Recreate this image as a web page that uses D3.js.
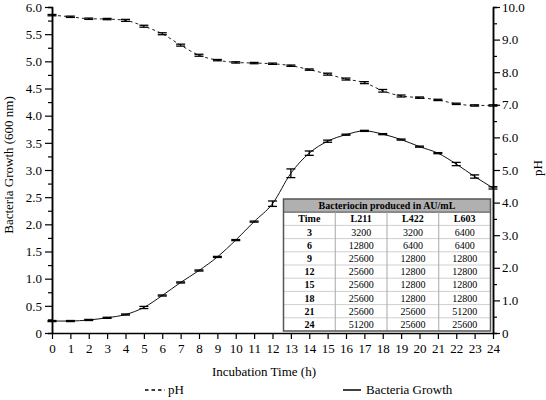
<!DOCTYPE html>
<html>
<head>
<meta charset="utf-8">
<script src="https://cdn.jsdelivr.net/npm/d3@7"></script>
<style>
  html, body { margin: 0; padding: 0; background: #fff; }
  svg { display: block; font-family: "Liberation Serif", "Times New Roman", serif; }
</style>
</head>
<body>
<div id="chart"></div>
<script>
// incubation time (h)
const hours = [0, 1, 2, 3, 4, 5, 6, 7, 8, 9, 10, 11, 12, 13, 14, 15, 16, 17, 18, 19, 20, 21, 22, 23, 24];
// bacteria growth, OD 600 nm (left axis)
const growth = [0.22, 0.22, 0.24, 0.28, 0.34, 0.47, 0.69, 0.93, 1.15, 1.40, 1.71, 2.05, 2.38, 2.94, 3.31, 3.53, 3.65, 3.72, 3.66, 3.56, 3.43, 3.31, 3.11, 2.88, 2.67];
const growthErr = [0.01, 0.01, 0.01, 0.01, 0.01, 0.02, 0.01, 0.01, 0.01, 0.01, 0.01, 0.01, 0.05, 0.08, 0.04, 0.02, 0.01, 0.01, 0.01, 0.01, 0.01, 0.01, 0.03, 0.03, 0.02];
// pH (right axis)
const ph = [9.75, 9.70, 9.64, 9.63, 9.59, 9.41, 9.18, 8.83, 8.52, 8.37, 8.30, 8.28, 8.26, 8.20, 8.08, 7.94, 7.79, 7.68, 7.43, 7.27, 7.22, 7.15, 7.03, 6.98, 6.98];
const phErr = [0.02, 0.02, 0.02, 0.02, 0.03, 0.03, 0.03, 0.03, 0.03, 0.02, 0.02, 0.02, 0.02, 0.02, 0.02, 0.03, 0.03, 0.03, 0.04, 0.03, 0.02, 0.02, 0.02, 0.02, 0.02];

// bacteriocin table
const tableTitle = 'Bacteriocin produced in AU/mL';
const tableHeads = ['Time', 'L211', 'L422', 'L603'];
const tableTimes = [3, 6, 9, 12, 15, 18, 21, 24];
const l211 = [3200, 12800, 25600, 25600, 25600, 25600, 25600, 51200];
const l422 = [3200, 6400, 12800, 12800, 12800, 12800, 25600, 25600];
const l603 = [6400, 6400, 12800, 12800, 12800, 12800, 51200, 25600];

const leftTicks = [0, 0.5, 1, 1.5, 2, 2.5, 3, 3.5, 4, 4.5, 5, 5.5, 6];
const rightTicks = [0, 1, 2, 3, 4, 5, 6, 7, 8, 9, 10];

const W = 546, H = 400;
const svg = d3.select('#chart').append('svg').attr('width', W).attr('height', H);

const x = d3.scaleLinear().domain([0, 24]).range([52, 493]);
const yL = d3.scaleLinear().domain([0, 6]).range([333, 7]);
const yR = d3.scaleLinear().domain([0, 10]).range([333, 7]);

const fmt = (d) => (d === 0 ? '0' : d3.format('.1f')(d));

function styleAxis(g) {
  g.attr('font-family', 'Liberation Serif');
  g.select('.domain').attr('stroke', '#000').attr('stroke-width', 1.5);
  g.selectAll('.tick line').attr('stroke', '#000').attr('stroke-width', 1.2);
  g.selectAll('text').attr('font-size', 13).attr('fill', '#000');
}

// minor ticks first, so the major axes draw over them
svg.append('g')
  .attr('transform', `translate(${x(0)},0)`)
  .call(d3.axisLeft(yL).tickValues(d3.range(0.25, 6, 0.5)).tickSize(4).tickFormat(''))
  .call(styleAxis);
svg.append('g')
  .attr('transform', `translate(${x(24)},0)`)
  .call(d3.axisRight(yR).tickValues(d3.range(0.5, 10, 1)).tickSize(4).tickFormat(''))
  .call(styleAxis);

svg.append('g')
  .attr('transform', `translate(${x(0)},0)`)
  .call(d3.axisLeft(yL).tickValues(leftTicks).tickSize(7).tickPadding(3).tickSizeOuter(0).tickFormat(fmt))
  .call(styleAxis);

svg.append('g')
  .attr('transform', `translate(${x(24)},0)`)
  .call(d3.axisRight(yR).tickValues(rightTicks).tickSize(7).tickPadding(2).tickSizeOuter(0).tickFormat(fmt))
  .call(styleAxis);

svg.append('g')
  .attr('transform', `translate(0,${yL(0)})`)
  .call(d3.axisBottom(x).tickValues(hours).tickSize(6).tickPadding(5).tickSizeOuter(0))
  .call(styleAxis);

// axis titles
svg.append('text')
  .attr('x', 264).attr('y', 376)
  .attr('text-anchor', 'middle').attr('font-size', 13)
  .text('Incubation Time (h)');

svg.append('text')
  .attr('transform', 'translate(13,165) rotate(-90)')
  .attr('text-anchor', 'middle').attr('font-size', 13)
  .text('Bacteria Growth (600 nm)');

svg.append('text')
  .attr('transform', 'translate(542,168) rotate(-90)')
  .attr('text-anchor', 'middle').attr('font-size', 13)
  .text('pH');

// lines
const phLine = d3.line().x((d, i) => x(hours[i])).y((d) => yR(d)).curve(d3.curveMonotoneX);
const growthLine = d3.line().x((d, i) => x(hours[i])).y((d) => yL(d)).curve(d3.curveMonotoneX);

svg.append('path')
  .datum(ph)
  .attr('d', phLine)
  .attr('fill', 'none')
  .attr('stroke', '#222')
  .attr('stroke-width', 1)
  .attr('stroke-dasharray', '3,3');

svg.append('path')
  .datum(growth)
  .attr('d', growthLine)
  .attr('fill', 'none')
  .attr('stroke', '#111')
  .attr('stroke-width', 1);

// error bars
function errorBars(values, errs, y) {
  const g = svg.append('g').attr('stroke', '#000').attr('stroke-width', 1.3);
  values.forEach((v, i) => {
    const cx = x(hours[i]);
    const top = y(v + errs[i]);
    const bot = y(v - errs[i]);
    g.append('line').attr('x1', cx).attr('x2', cx).attr('y1', top).attr('y2', bot);
    g.append('line').attr('x1', cx - 4.5).attr('x2', cx + 4.5).attr('y1', top).attr('y2', top);
    g.append('line').attr('x1', cx - 4.5).attr('x2', cx + 4.5).attr('y1', bot).attr('y2', bot);
  });
}
errorBars(ph, phErr, yR);
errorBars(growth, growthErr, yL);

// table
const tx = 283.5, ty = 199, tw = 207, rowH = 13.2;
const colW = tw / 4;
const rows = tableTimes.map((t, i) => [t, l211[i], l422[i], l603[i]]);
const tbl = svg.append('g');

tbl.append('rect')
  .attr('x', tx).attr('y', ty).attr('width', tw).attr('height', rowH * 10)
  .attr('fill', '#fff');
tbl.append('rect')
  .attr('x', tx).attr('y', ty).attr('width', tw).attr('height', rowH)
  .attr('fill', '#b0b0b0');

// grid
for (let r = 2; r < 10; r++) {
  tbl.append('line')
    .attr('x1', tx).attr('x2', tx + tw)
    .attr('y1', ty + r * rowH).attr('y2', ty + r * rowH)
    .attr('stroke', '#cfcfcf').attr('stroke-width', 1);
}
tbl.append('line')
  .attr('x1', tx).attr('x2', tx + tw)
  .attr('y1', ty + rowH).attr('y2', ty + rowH)
  .attr('stroke', '#666').attr('stroke-width', 1.2);
for (let c = 1; c < 4; c++) {
  tbl.append('line')
    .attr('x1', tx + c * colW).attr('x2', tx + c * colW)
    .attr('y1', ty + rowH).attr('y2', ty + rowH * 10)
    .attr('stroke', '#a8a8a8').attr('stroke-width', 1);
}
tbl.append('rect')
  .attr('x', tx).attr('y', ty).attr('width', tw).attr('height', rowH * 10)
  .attr('fill', 'none').attr('stroke', '#555').attr('stroke-width', 1.5);

tbl.append('text')
  .attr('x', tx + tw / 2).attr('y', ty + rowH / 2).attr('dy', '0.35em')
  .attr('text-anchor', 'middle').attr('font-size', 10).attr('font-weight', 'bold')
  .text(tableTitle);

tableHeads.forEach((h, c) => {
  tbl.append('text')
    .attr('x', tx + colW * (c + 0.5)).attr('y', ty + rowH * 1.5).attr('dy', '0.35em')
    .attr('text-anchor', 'middle').attr('font-size', 10).attr('font-weight', 'bold')
    .text(h);
});

rows.forEach((row, r) => {
  row.forEach((v, c) => {
    tbl.append('text')
      .attr('x', tx + colW * (c + 0.5)).attr('y', ty + rowH * (r + 2.5)).attr('dy', '0.35em')
      .attr('text-anchor', 'middle').attr('font-size', 10)
      .attr('font-weight', c === 0 ? 'bold' : 'normal')
      .text(v);
  });
});

// legend
const lg = svg.append('g');
lg.append('line')
  .attr('x1', 145).attr('x2', 165).attr('y1', 390).attr('y2', 390)
  .attr('stroke', '#000').attr('stroke-width', 1.5).attr('stroke-dasharray', '3.5,3');
lg.append('text').attr('x', 168).attr('y', 394).attr('font-size', 13).text('pH');
lg.append('line')
  .attr('x1', 343).attr('x2', 361).attr('y1', 390).attr('y2', 390)
  .attr('stroke', '#000').attr('stroke-width', 1.5);
lg.append('text').attr('x', 366).attr('y', 394).attr('font-size', 13).text('Bacteria Growth');
</script>
</body>
</html>
